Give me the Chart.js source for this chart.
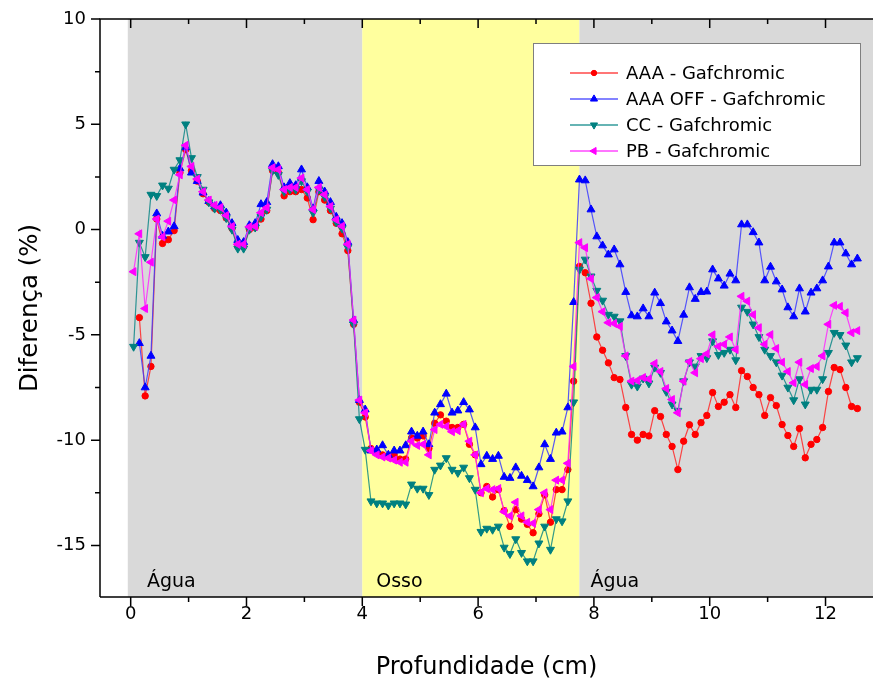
<!DOCTYPE html>
<html>
<head>
<meta charset="utf-8">
<script src="https://cdn.jsdelivr.net/npm/chart.js@4.4.1/dist/chart.umd.min.js"></script>
<style>
  html, body { margin: 0; padding: 0; background: #fff; }
</style>
</head>
<body>
<canvas id="chart" width="873" height="686"></canvas>
<script>
// depth (cm) for every measured point
const depth = [
  0.05,0.15,0.25,0.35,0.45,0.55,0.65,0.75,0.85,0.95,
  1.05,1.15,1.25,1.35,1.45,1.55,1.65,1.75,1.85,1.95,
  2.05,2.15,2.25,2.35,2.45,2.55,2.65,2.75,2.85,2.95,
  3.05,3.15,3.25,3.35,3.45,3.55,3.65,3.75,3.85,3.95,
  4.05,4.15,4.25,4.35,4.45,4.55,4.65,4.75,4.85,4.95,
  5.05,5.15,5.25,5.35,5.45,5.55,5.65,5.75,5.85,5.95,
  6.05,6.15,6.25,6.35,6.45,6.55,6.65,6.75,6.85,6.95,
  7.05,7.15,7.25,7.35,7.45,7.55,7.65,7.75,7.85,7.95,
  8.05,8.15,8.25,8.35,8.45,8.55,8.65,8.75,8.85,8.95,
  9.05,9.15,9.25,9.35,9.45,9.55,9.65,9.75,9.85,9.95,
  10.05,10.15,10.25,10.35,10.45,10.55,10.65,10.75,10.85,10.95,
  11.05,11.15,11.25,11.35,11.45,11.55,11.65,11.75,11.85,11.95,
  12.05,12.15,12.25,12.35,12.45,12.55
];

const aaa = [
  null,-4.18,-7.9,-6.5,0.5,-0.66,-0.48,-0.05,2.7,3.8,
  2.8,2.3,1.7,1.3,1.0,0.9,0.55,0.05,-0.8,-0.8,
  0.0,0.1,0.5,0.9,2.8,2.7,1.6,1.8,1.8,1.9,
  1.5,0.47,1.8,1.4,0.9,0.3,-0.2,-1.0,-4.5,-8.2,
  -8.9,-10.4,-10.6,-10.7,-10.8,-10.7,-10.9,-10.9,-9.9,-9.9,
  -9.8,-10.4,-9.2,-8.8,-9.1,-9.4,-9.4,-9.25,-10.2,-10.7,
  -12.5,-12.2,-12.7,-12.35,-13.35,-14.1,-13.3,-13.75,-14.0,-14.4,
  -13.5,-12.6,-13.9,-12.35,-12.35,-11.4,-7.2,-1.75,-2.05,-3.5,
  -5.1,-5.73,-6.33,-7.03,-7.12,-8.45,-9.73,-10.0,-9.73,-9.8,
  -8.6,-8.88,-9.73,-10.3,-11.4,-10.05,-9.27,-9.73,-9.17,-8.83,
  -7.74,-8.4,-8.2,-7.84,-8.45,-6.7,-6.98,-7.5,-7.84,-8.83,
  -7.98,-8.36,-9.26,-9.78,-10.3,-9.45,-10.84,-10.2,-9.97,-9.4,
  -7.69,-6.55,-6.65,-7.5,-8.4,-8.5
];

const aaaOff = [
  null,-5.4,-7.5,-6.0,0.76,-0.3,-0.1,0.15,2.9,3.9,
  2.7,2.3,1.75,1.35,1.1,1.15,0.8,0.3,-0.5,-0.6,
  0.2,0.3,1.2,1.3,3.1,3.0,2.0,2.2,2.1,2.85,
  2.0,1.0,2.3,1.8,1.3,0.6,0.3,-0.6,-4.3,-8.1,
  -8.55,-10.5,-10.45,-10.25,-10.7,-10.5,-10.5,-10.25,-9.6,-9.8,
  -9.6,-10.2,-8.7,-8.3,-7.8,-8.7,-8.6,-8.2,-8.55,-9.4,
  -11.15,-10.75,-10.9,-10.75,-11.75,-11.8,-11.3,-11.7,-11.9,-12.2,
  -11.3,-10.2,-10.9,-9.65,-9.6,-8.45,-3.45,2.37,2.33,0.95,
  -0.33,-0.76,-1.19,-0.95,-1.66,-2.97,-4.08,-4.13,-3.75,-4.13,
  -3.0,-3.5,-4.37,-4.8,-5.3,-4.05,-2.75,-3.3,-2.97,-2.95,
  -1.9,-2.33,-2.67,-2.1,-2.42,0.24,0.24,-0.13,-0.62,-2.42,
  -1.77,-2.47,-2.85,-3.7,-4.13,-2.8,-3.9,-3.0,-2.8,-2.42,
  -1.76,-0.62,-0.62,-1.14,-1.66,-1.38
];

const cc = [
  -5.56,-0.62,-1.3,1.66,1.6,2.1,1.95,2.85,3.3,5.0,
  3.4,2.5,1.9,1.3,1.0,0.95,0.55,0.0,-0.9,-0.9,
  0.0,0.1,0.6,0.95,2.8,2.6,1.8,1.9,1.9,2.3,
  1.8,0.8,1.9,1.55,1.0,0.35,0.05,-0.85,-4.5,-9.0,
  -10.45,-12.9,-13.0,-13.0,-13.1,-13.0,-13.0,-13.05,-12.1,-12.3,
  -12.3,-12.6,-11.4,-11.2,-10.85,-11.4,-11.55,-11.3,-11.8,-12.35,
  -14.35,-14.2,-14.25,-14.1,-15.1,-15.4,-14.7,-15.35,-15.75,-15.75,
  -14.9,-14.1,-15.2,-13.75,-13.85,-12.9,-8.2,-1.9,-1.42,-2.22,
  -2.9,-3.37,-4.04,-4.13,-4.35,-6.0,-7.36,-7.45,-7.07,-7.3,
  -6.55,-6.8,-7.7,-8.3,-8.6,-7.2,-6.3,-6.5,-6.0,-6.1,
  -5.3,-5.95,-5.85,-5.7,-6.2,-3.7,-3.9,-4.5,-5.1,-5.7,
  -6.0,-6.3,-6.93,-7.5,-8.1,-7.1,-8.3,-7.6,-7.6,-7.1,
  -5.85,-4.9,-5.0,-5.5,-6.3,-6.1
];

const pb = [
  -2.0,-0.2,-3.75,-1.55,0.5,-0.35,0.4,1.4,2.6,4.0,
  3.0,2.4,1.8,1.4,1.15,1.05,0.67,0.15,-0.7,-0.7,
  0.13,0.15,0.8,1.04,2.94,2.85,1.9,2.0,2.0,2.45,
  1.9,0.95,2.0,1.66,1.1,0.47,0.16,-0.7,-4.3,-8.1,
  -8.7,-10.5,-10.7,-10.8,-10.85,-10.95,-11.05,-11.05,-10.05,-10.25,
  -10.2,-10.7,-9.5,-9.25,-9.35,-9.6,-9.55,-9.25,-10.05,-10.7,
  -12.5,-12.3,-12.35,-12.3,-13.4,-13.6,-12.95,-13.6,-13.9,-13.95,
  -13.3,-12.5,-13.3,-11.9,-11.9,-11.1,-6.5,-0.62,-0.86,-2.33,
  -3.23,-3.9,-4.42,-4.46,-4.6,-6.0,-7.2,-7.17,-7.03,-7.1,
  -6.36,-6.74,-7.55,-8.07,-8.7,-7.2,-6.27,-6.8,-6.13,-5.9,
  -5.0,-5.55,-5.45,-5.1,-5.7,-3.17,-3.4,-4.04,-4.66,-5.45,
  -4.99,-5.65,-6.3,-6.74,-7.28,-6.3,-7.36,-6.6,-6.5,-6.0,
  -4.5,-3.6,-3.65,-3.95,-4.9,-4.8
];

const seriesNames = ['AAA - Gafchromic', 'AAA OFF - Gafchromic', 'CC - Gafchromic', 'PB - Gafchromic'];

// material regions along the depth axis
const regionNames = ['Água', 'Osso', 'Água'];
const regionStart = [-0.05, 4.0, 7.75];
const regionEnd = [4.0, 7.75, 13];
const regionLabelAt = [0.28, 4.24, 7.94];
const regionColor = ['#d9d9d9', '#ffff9e', '#d9d9d9'];

const xTicks = [0, 1, 2, 3, 4, 5, 6, 7, 8, 9, 10, 11, 12];
const yTicks = [-15, -12.5, -10, -7.5, -5, -2.5, 0, 2.5, 5, 7.5, 10];

const toPoints = arr => depth.map((d, i) => ({ x: d, y: arr[i] }));

const FONT = "'DejaVu Sans', 'Liberation Sans', sans-serif";

const regionsPlugin = {
  id: 'regions',
  beforeDatasetsDraw(chart) {
    const { ctx, chartArea: a, scales: { x, y } } = chart;
    ctx.save();
    ctx.beginPath();
    ctx.rect(a.left, a.top, a.right - a.left, a.bottom - a.top);
    ctx.clip();
    for (let i = 0; i < regionNames.length; i++) {
      const x0 = x.getPixelForValue(regionStart[i]);
      const x1 = x.getPixelForValue(regionEnd[i]);
      ctx.fillStyle = regionColor[i];
      ctx.fillRect(x0, a.top, x1 - x0, a.bottom - a.top);
    }
    ctx.fillStyle = '#000';
    ctx.font = '19px ' + FONT;
    ctx.textBaseline = 'alphabetic';
    ctx.textAlign = 'left';
    for (let i = 0; i < regionNames.length; i++) {
      ctx.fillText(regionNames[i], x.getPixelForValue(regionLabelAt[i]), a.bottom - 10);
    }
    ctx.restore();
  },
  afterDraw(chart) {
    const { ctx, chartArea: a, scales: { x, y } } = chart;
    ctx.save();
    ctx.strokeStyle = '#000';
    ctx.lineWidth = 1.5;
    // frame
    ctx.beginPath();
    ctx.moveTo(a.left, a.bottom);
    ctx.lineTo(a.left, a.top);
    ctx.lineTo(a.right, a.top);
    ctx.moveTo(a.left, a.bottom);
    ctx.lineTo(a.right, a.bottom);
    ctx.stroke();
    // tick marks, long for labelled ones
    ctx.beginPath();
    xTicks.forEach(v => {
      const px = x.getPixelForValue(v);
      const len = v % 2 === 0 ? 9 : 5;
      ctx.moveTo(px, a.bottom);
      ctx.lineTo(px, a.bottom + len);
      ctx.moveTo(px, a.top);
      ctx.lineTo(px, a.top + len);
    });
    yTicks.forEach(v => {
      const py = y.getPixelForValue(v);
      const len = v % 5 === 0 ? 9 : 5;
      ctx.moveTo(a.left, py);
      ctx.lineTo(a.left - len, py);
    });
    ctx.stroke();

    // legend box
    const bx = 533, by = 43, bw = 327, bh = 122;
    ctx.fillStyle = '#fff';
    ctx.fillRect(bx, by, bw, bh);
    ctx.strokeStyle = '#7f7f7f';
    ctx.lineWidth = 1;
    ctx.strokeRect(bx + 0.5, by + 0.5, bw, bh);
    ctx.font = '18px ' + FONT;
    ctx.textBaseline = 'middle';
    ctx.textAlign = 'left';
    chart.data.datasets.forEach((ds, i) => {
      const ry = 73 + i * 26;
      ctx.strokeStyle = ds.borderColor;
      ctx.lineWidth = 1.5;
      ctx.beginPath();
      ctx.moveTo(570, ry);
      ctx.lineTo(618, ry);
      ctx.stroke();
      ctx.fillStyle = ds.pointBackgroundColor;
      ctx.strokeStyle = ds.pointBackgroundColor;
      ctx.lineWidth = 1;
      Chart.helpers.drawPoint(ctx, {
        pointStyle: ds.pointStyle,
        rotation: ds.rotation || 0,
        radius: ds.pointRadius - 0.5,
        borderWidth: 1
      }, 594, ry);
      ctx.fillStyle = '#000';
      ctx.fillText(seriesNames[i], 626, ry + 1);
    });
    ctx.restore();
  }
};

function makeSet(label, arr, line, color, style, rotation, radius, order) {
  return {
    label: label,
    data: toPoints(arr),
    borderColor: line,
    borderWidth: 1.2,
    pointStyle: style,
    rotation: rotation,
    pointRadius: radius,
    pointBackgroundColor: color,
    pointBorderColor: color,
    pointBorderWidth: 1,
    spanGaps: false,
    tension: 0,
    order: order
  };
}

new Chart(document.getElementById('chart'), {
  type: 'line',
  data: {
    datasets: [
      makeSet(seriesNames[0], aaa, 'rgba(255,40,40,0.85)', '#ff0000', 'circle', 0, 3.2, 3),
      makeSet(seriesNames[1], aaaOff, 'rgba(60,60,255,0.85)', '#0000ff', 'triangle', 0, 4.6, 2),
      makeSet(seriesNames[2], cc, 'rgba(0,130,130,0.8)', '#008080', 'triangle', 180, 4.6, 1),
      makeSet(seriesNames[3], pb, 'rgba(255,40,255,0.85)', '#ff00ff', 'triangle', 270, 4.6, 0)
    ]
  },
  plugins: [regionsPlugin],
  options: {
    responsive: false,
    devicePixelRatio: 1,
    animation: false,
    layout: { autoPadding: false, padding: { top: 19, right: 0, left: 0, bottom: 0 } },
    plugins: {
      legend: { display: false },
      tooltip: { enabled: false }
    },
    scales: {
      x: {
        type: 'linear',
        min: -0.53,
        max: 12.82,
        afterBuildTicks: s => { s.ticks = xTicks.map(v => ({ value: v })); },
        afterFit: s => { s.height = 89; s.paddingLeft = 0; s.paddingRight = 0; },
        grid: { display: false, drawTicks: false },
        border: { display: false },
        ticks: {
          padding: 7,
          color: '#000',
          font: { family: FONT, size: 18 },
          maxRotation: 0,
          autoSkip: false,
          callback: v => (v % 2 === 0 ? String(v) : '')
        },
        title: {
          display: true,
          text: 'Profundidade (cm)',
          color: '#000',
          font: { family: FONT, size: 24 },
          padding: { top: 14 }
        }
      },
      y: {
        min: -17.45,
        max: 10,
        afterBuildTicks: s => { s.ticks = yTicks.map(v => ({ value: v })); },
        afterFit: s => { s.width = 100; s.paddingTop = 0; s.paddingBottom = 0; },
        grid: { display: false, drawTicks: false },
        border: { display: false },
        ticks: {
          padding: 14,
          color: '#000',
          font: { family: FONT, size: 18 },
          autoSkip: false,
          callback: v => (v % 5 === 0 ? String(v) : '')
        },
        title: {
          display: true,
          text: 'Diferença (%)',
          color: '#000',
          font: { family: FONT, size: 24.5 },
          padding: { top: 16, bottom: 4 }
        }
      }
    }
  }
});
</script>
</body>
</html>
